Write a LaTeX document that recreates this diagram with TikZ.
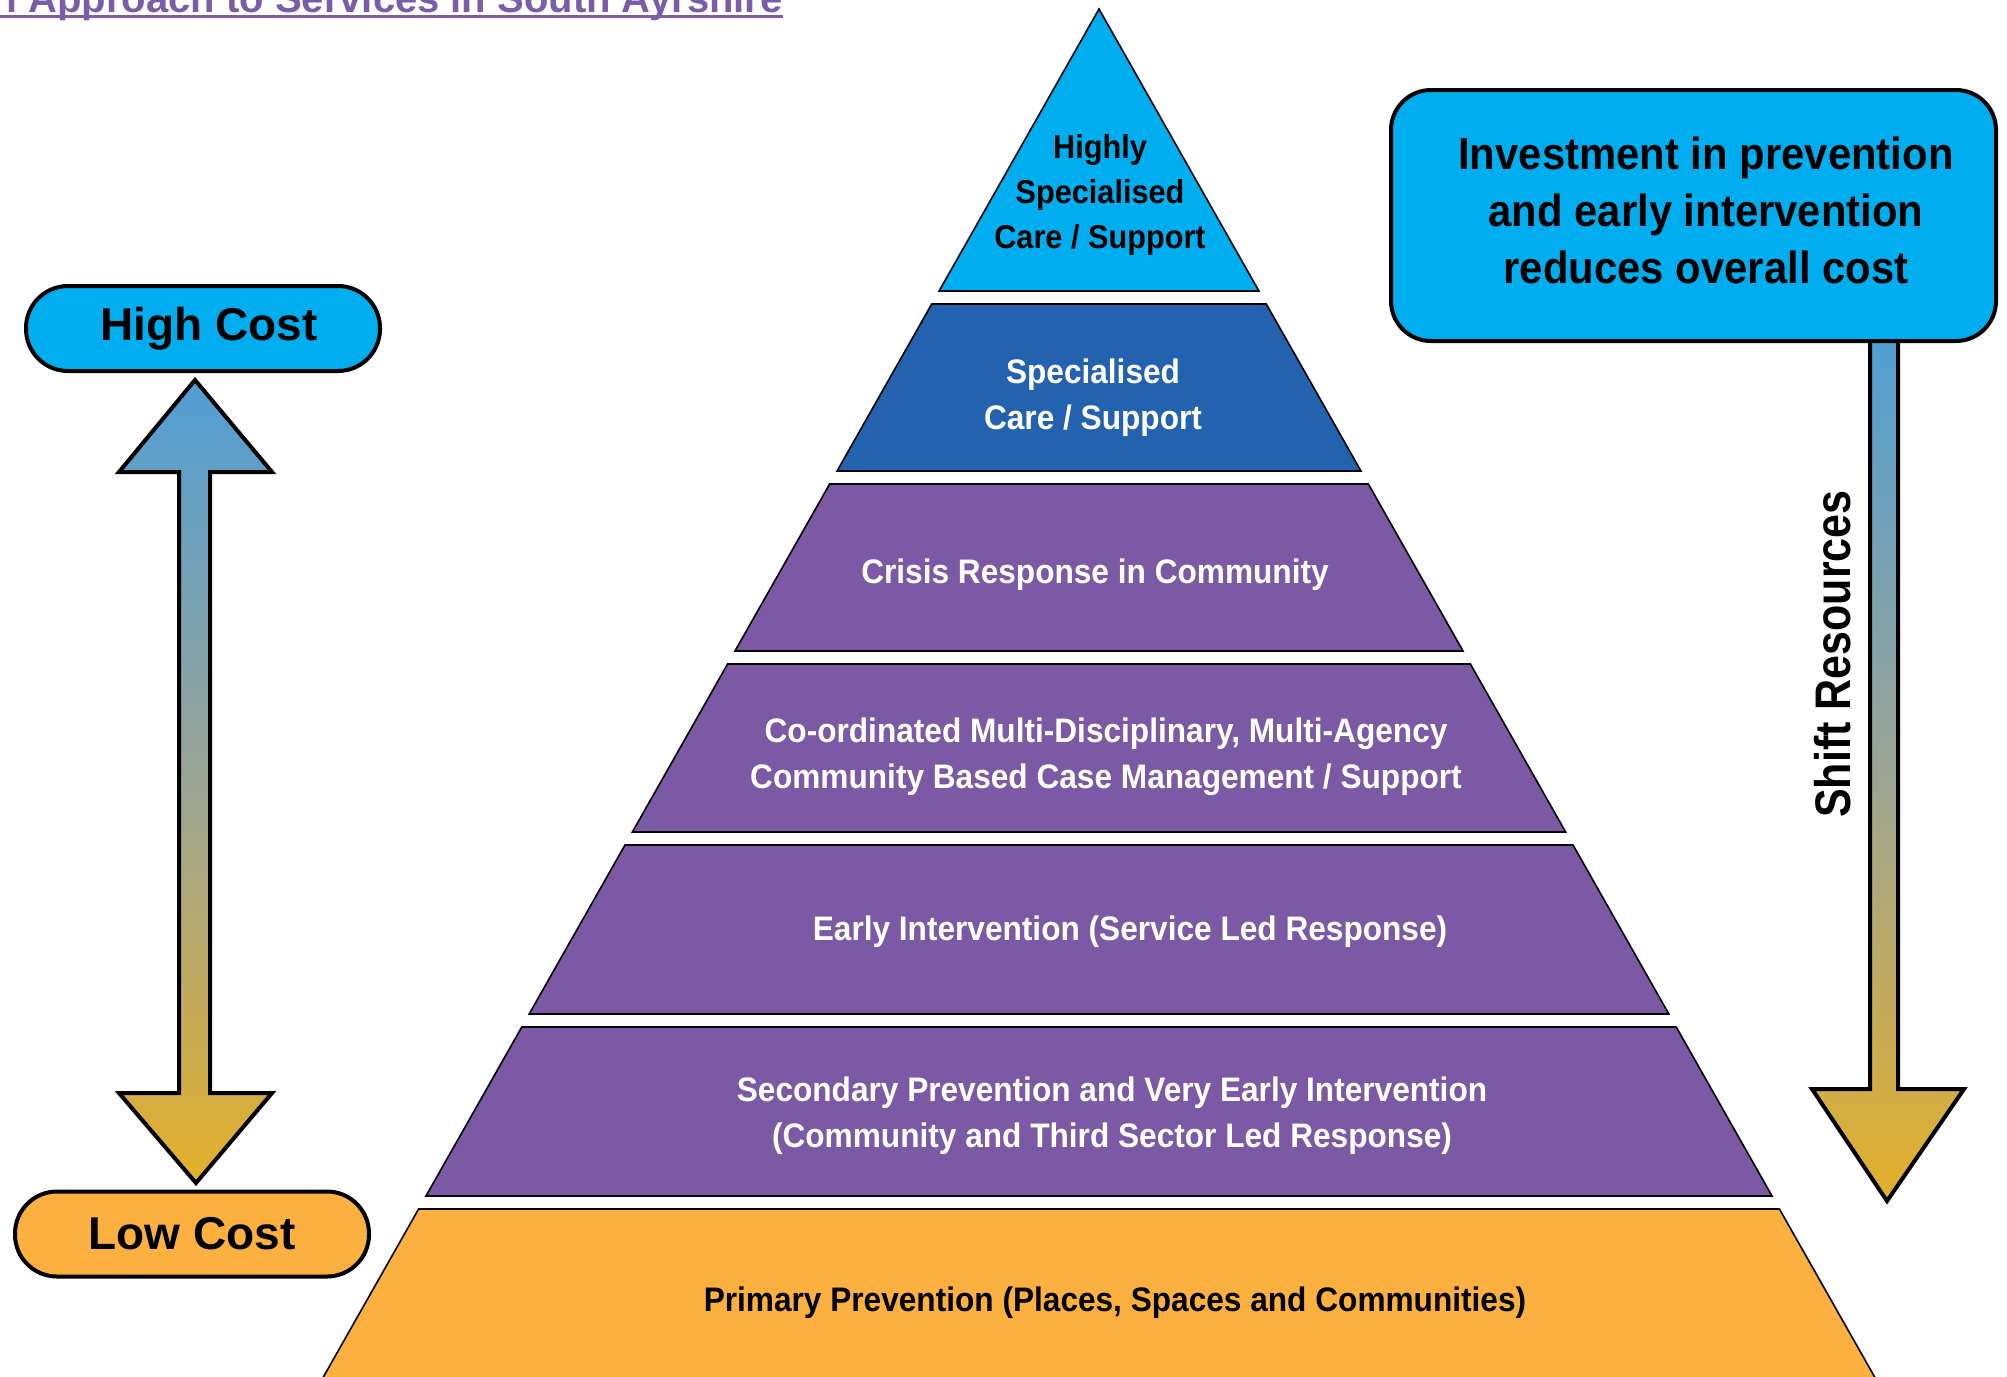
\documentclass[tikz,border=0pt]{standalone}
\usepackage{fontspec}
\setmainfont{Liberation Sans}
\newfontfamily\pyrfont{Liberation Sans}[FakeStretch=0.93]
\newfontfamily\shiftfont{Liberation Sans}[FakeStretch=0.86]
\definecolor{cyanbox}{RGB}{0,174,239}
\definecolor{tierblue}{RGB}{34,98,174}
\definecolor{tierpurple}{RGB}{123,89,164}
\definecolor{tierorange}{RGB}{251,176,64}
\definecolor{titlepurple}{RGB}{123,92,168}
\definecolor{arrowtop}{RGB}{80,158,212}
\definecolor{arrowmid}{RGB}{155,165,150}
\definecolor{arrowbot}{RGB}{228,176,42}
\newcommand{\pyrtier}[3]{%
  \draw[tierline,fill=#3] ({1099-0.567*(#1-9)},#1) -- ({1099+0.567*(#1-9)},#1) -- ({1099+0.567*(#2-9)},#2) -- ({1099-0.567*(#2-9)},#2) -- cycle;}
\begin{document}
\begin{tikzpicture}[x=1pt,y=-1pt,
  tierline/.style={draw=black,line width=1.6pt,line join=miter},
  pyrtext/.style={font=\pyrfont\bfseries\fontsize{34}{46}\selectfont,align=center,inner sep=0pt},
  blockarrow/.style={draw=black,line width=4pt,line join=miter},
  pill/.style={draw=black,line width=4pt,rounded corners=42pt,inner sep=0pt,
    minimum width=354pt,minimum height=85pt,font=\bfseries\fontsize{46}{55}\selectfont}]
\useasboundingbox (0,0) rectangle (2007,1376);
\clip (0,0) rectangle (2007,1376);
\fill[white] (0,0) rectangle (2007,1376);
% title
\node[anchor=base east,inner sep=0pt,text=titlepurple,font=\bfseries\fontsize{40}{48}\selectfont] (title) at (783,12.7) {l Approach to Services in South Ayrshire};
\draw[titlepurple,line width=3.6pt] ([yshift=-3.8pt,xshift=-10pt]title.base west) -- ([yshift=-3.8pt]title.base east);
% pyramid
\draw[tierline,fill=cyanbox] (1099,9) -- ({1099+0.567*282},291) -- ({1099-0.567*282},291) -- cycle;
\pyrtier{304}{471}{tierblue}
\pyrtier{484}{651}{tierpurple}
\pyrtier{664}{832}{tierpurple}
\pyrtier{845}{1014}{tierpurple}
\pyrtier{1027}{1196}{tierpurple}
\pyrtier{1209}{1420}{tierorange}
\node[pyrtext,font=\pyrfont\bfseries\fontsize{33}{45}\selectfont] (t1) at (1100,194.5) {Highly\\Specialised\\Care / Support};
\node[pyrtext,text=white] (t2) at (1093,398) {Specialised\\Care / Support};
\node[pyrtext,text=white] (t3) at (1095,575) {Crisis Response in Community};
\node[pyrtext,text=white] (t4) at (1106,757) {Co-ordinated Multi-Disciplinary, Multi-Agency\\Community Based Case Management / Support};
\node[pyrtext,text=white] (t5) at (1130,932) {Early Intervention (Service Led Response)};
\node[pyrtext,text=white] (t6) at (1112,1116) {Secondary Prevention and Very Early Intervention\\(Community and Third Sector Led Response)};
\node[pyrtext] (t7) at (1115,1303) {Primary Prevention (Places, Spaces and Communities)};
% cost pills and arrow
\node[pill,fill=cyanbox] (high) at (203,328.5) {\hspace{12pt}High Cost};
\node[pill,fill=tierorange] (low) at (192,1234) {Low Cost};
\draw[blockarrow,top color=arrowtop,bottom color=arrowbot,middle color=arrowmid]
  (195,380) -- (272,472) -- (210,472) -- (210,1093) -- (272,1093) -- (196,1183)
  -- (119,1093) -- (179,1093) -- (179,472) -- (119,472) -- cycle;
% shift resources arrow
\draw[blockarrow,top color=arrowtop,bottom color=arrowbot,middle color=arrowmid]
  (1870,330) -- (1898,330) -- (1898,1089) -- (1964,1089) -- (1887,1201)
  -- (1812,1089) -- (1870,1089) -- cycle;
\node[draw=black,line width=4pt,fill=cyanbox,rounded corners=40pt,minimum width=605pt,minimum height=251pt,inner sep=0pt] (invest) at (1693.5,215.5) {};
\node[align=center,inner sep=0pt,font=\pyrfont\bfseries\fontsize{45}{57}\selectfont] (investtext) at (1706,210) {Investment in prevention\\and early intervention\\reduces overall cost};
\node[rotate=90,anchor=base,inner sep=0pt,font=\shiftfont\bfseries\fontsize{50}{60}\selectfont] (shift) at (1850,654) {Shift Resources};
\end{tikzpicture}
\end{document}
